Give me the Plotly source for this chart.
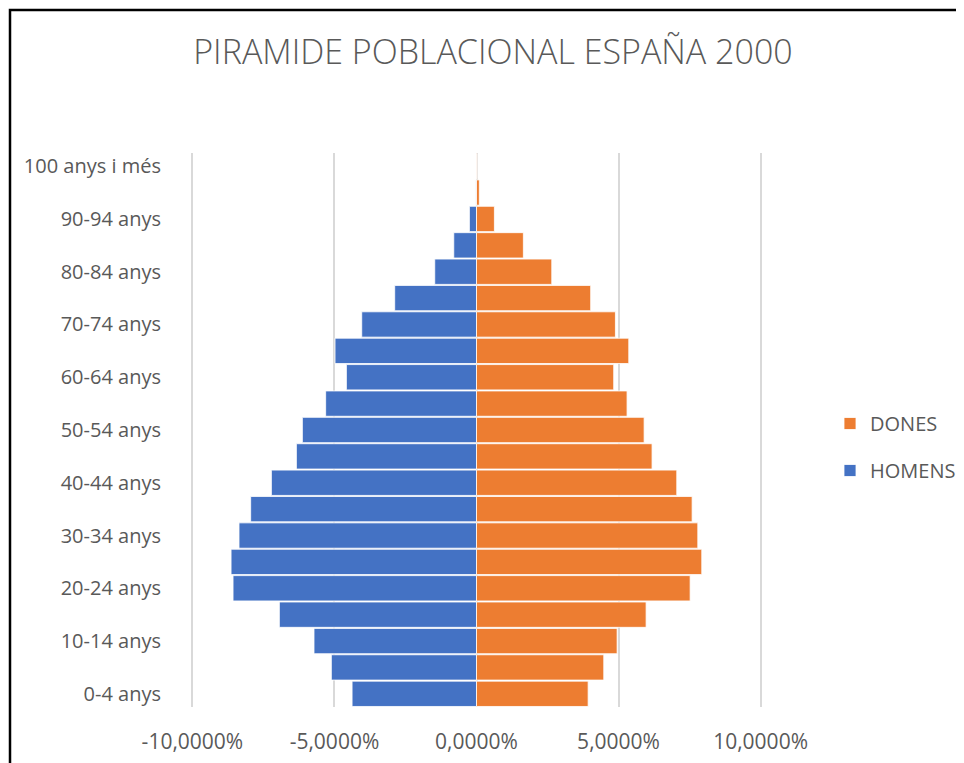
import plotly.graph_objects as go

categories = ["0-4 anys", "5-9 anys", "10-14 anys", "15-19 anys", "20-24 anys",
              "25-29 anys", "30-34 anys", "35-39 anys", "40-44 anys", "45-49 anys",
              "50-54 anys", "55-59 anys", "60-64 anys", "65-69 anys", "70-74 anys",
              "75-79 anys", "80-84 anys", "85-89 anys", "90-94 anys", "95-99 anys",
              "100 anys i més"]
homens = [4.38, 5.11, 5.72, 6.94, 8.57, 8.64, 8.36, 7.95, 7.22, 6.34,
          6.13, 5.31, 4.58, 4.98, 4.04, 2.88, 1.47, 0.80, 0.25, 0.02, 0.005]
dones = [3.93, 4.48, 4.95, 5.97, 7.52, 7.93, 7.79, 7.59, 7.05, 6.18,
         5.90, 5.30, 4.83, 5.36, 4.89, 4.02, 2.65, 1.65, 0.63, 0.10, 0.02]
x_ticks = [-10, -5, 0, 5, 10]
x_ticktext = ["-10,0000%", "-5,0000%", "0,0000%", "5,0000%", "10,0000%"]
title_text = "PIRAMIDE POBLACIONAL ESPAÑA 2000"

BLUE = "#4472C4"
ORANGE = "#ED7D31"
GREY = "#595959"
FONT = "Open Sans"

fig = go.Figure()
fig.add_trace(go.Bar(
    y=categories, x=[-v for v in homens], name="HOMENS", orientation="h",
    marker=dict(color=BLUE, line=dict(color="rgba(255,255,255,0.8)", width=1)),
    legendgroup="h", legendrank=2,
))
fig.add_trace(go.Bar(
    y=categories, x=dones, name="DONES", orientation="h",
    marker=dict(color=ORANGE, line=dict(color="rgba(255,255,255,0.8)", width=1)),
    legendgroup="d", legendrank=1,
))

# page offset of 8px (body margin) compensated
L, T = 183, 145
W, H = 964, 763
pw, ph = 571, 554
R = W - L - pw
B = H - T - ph

def px_to_paper_x(px):
    return (px - L) / pw

def px_to_paper_y(py):
    return (T + ph - py) / ph

fig.update_layout(
    width=W, height=H,
    margin=dict(l=L, r=R, t=T, b=B, pad=0, autoexpand=False),
    paper_bgcolor="white", plot_bgcolor="white",
    barmode="relative", bargap=0.04,
    font=dict(family=FONT, color=GREY, size=20),
    title=dict(text=title_text, x=px_to_paper_x(485), xref="paper", xanchor="center",
               y=1 - 44 / H, yanchor="middle", yref="container",
               font=dict(family=FONT, size=34, color=GREY, weight=300)),
    showlegend=True,
    legend=dict(x=px_to_paper_x(822), y=px_to_paper_y(396), xanchor="left", yanchor="top",
                traceorder="grouped", tracegroupgap=18,
                font=dict(family=FONT, size=20, color=GREY),
                bgcolor="rgba(0,0,0,0)", itemwidth=30),
    xaxis=dict(range=[-10.05, 10.05], tickmode="array", tickvals=x_ticks, ticktext=x_ticktext,
               showgrid=True, gridcolor="#D9D9D9", gridwidth=1.5,
               zeroline=True, zerolinecolor="#D9D9D9", zerolinewidth=1.5,
               showline=False, ticks="", ticklabelstandoff=20,
               tickfont=dict(family=FONT, size=21, color=GREY), fixedrange=True),
    yaxis=dict(type="category", categoryorder="array", categoryarray=categories,
               tickmode="array", tickvals=categories[::2], ticktext=categories[::2],
               showgrid=False, showline=False, ticks="", ticklabelstandoff=29,
               tickfont=dict(family=FONT, size=20, color=GREY),
               range=[-0.5, 20.5], fixedrange=True),
    shapes=[dict(type="rect", xref="paper", yref="paper",
                 x0=px_to_paper_x(2), x1=px_to_paper_x(990),
                 y0=px_to_paper_y(790), y1=px_to_paper_y(2),
                 line=dict(color="black", width=2.5), fillcolor="rgba(0,0,0,0)", layer="below")],
)

fig.write_html("out.html")
